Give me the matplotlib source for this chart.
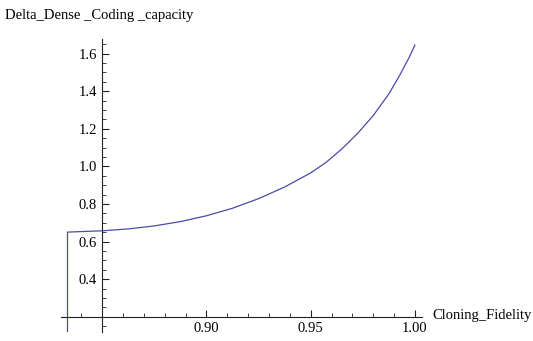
import matplotlib
matplotlib.use("Agg")
import matplotlib.pyplot as plt
from matplotlib.ticker import MultipleLocator, FixedLocator

# values
fidelity = [0.83333, 0.83333, 0.85, 0.8625, 0.875, 0.8875, 0.90, 0.9125, 0.925,
            0.9375, 0.95, 0.9575, 0.965, 0.9725, 0.98, 0.9875, 0.9925,
            0.9975, 1.0]
capacity = [0.0, 0.650, 0.657, 0.667, 0.683, 0.706, 0.737, 0.777, 0.828,
            0.890, 0.965, 1.022, 1.093, 1.175, 1.270, 1.385, 1.480,
            1.585, 1.645]
x_ticks = [0.90, 0.95, 1.00]
x_tick_labels = ["0.90", "0.95", "1.00"]
y_ticks = [0.4, 0.6, 0.8, 1.0, 1.2, 1.4, 1.6]
y_tick_labels = ["0.4", "0.6", "0.8", "1.0", "1.2", "1.4", "1.6"]

plt.rcParams['font.family'] = ['Liberation Serif', 'DejaVu Serif']

fig = plt.figure(figsize=(5.33, 3.41), dpi=100)
ax = fig.add_axes([0.1144, 0.0264, 0.6773, 0.859])

ax.plot(fidelity, capacity, color='#4b4ba9', linewidth=0.9)

ax.set_xlim(0.8302, 1.0034)
ax.set_ylim(0.1186, 1.677)

# Mathematica-style axes crossing at (0.85, 0.2)
ax.spines['left'].set_position(('data', 0.85))
ax.spines['bottom'].set_position(('data', 0.2))
ax.spines['right'].set_visible(False)
ax.spines['top'].set_visible(False)
for s in ['left', 'bottom']:
    ax.spines[s].set_linewidth(0.8)
    ax.spines[s].set_color('#222222')

ax.xaxis.set_major_locator(FixedLocator(x_ticks))
ax.set_xticklabels(x_tick_labels)
ax.xaxis.set_minor_locator(MultipleLocator(0.01))
ax.yaxis.set_major_locator(FixedLocator(y_ticks))
ax.set_yticklabels(y_tick_labels)
ax.yaxis.set_minor_locator(MultipleLocator(0.05))

ax.tick_params(axis='x', which='major', direction='in', length=5, width=0.8,
               labelsize=10.5, pad=4, color='#222222')
ax.tick_params(axis='x', which='minor', direction='in', length=3, width=0.6,
               color='#222222')
ax.tick_params(axis='y', which='major', direction='in', length=5, width=0.8,
               labelsize=10.5, pad=4, color='#222222')
ax.tick_params(axis='y', which='minor', direction='in', length=3, width=0.6,
               color='#222222')

fig.text(5 / 533, 1 - 16 / 341, "Delta_Dense _Coding _capacity",
         fontsize=10.5, va='center', ha='left')
fig.text(432 / 533, 1 - 316 / 341, "Cloning_Fidelity",
         fontsize=10.5, va='center', ha='left')

fig.savefig("out.png", dpi=100)
